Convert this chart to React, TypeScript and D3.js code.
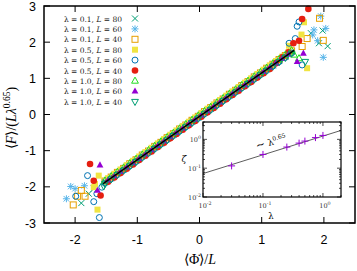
import React, { useEffect, useRef } from 'react';
import * as d3 from 'd3';

const W = 357;
const H = 271;

// shared <Phi>/L positions of the dense collapsed band (two staggered grids)
const phiGridA = [-1.52, -1.42, -1.32, -1.22, -1.12, -1.02, -0.92, -0.82, -0.72, -0.62, -0.52, -0.42, -0.32, -0.22, -0.12, -0.02,
  0.08, 0.18, 0.28, 0.38, 0.48, 0.58, 0.68, 0.78, 0.88, 0.98, 1.08, 1.18, 1.28, 1.38, 1.48];
const phiGridB = [-1.47, -1.37, -1.27, -1.17, -1.07, -0.97, -0.87, -0.77, -0.67, -0.57, -0.47, -0.37, -0.27, -0.17, -0.07, 0.03,
  0.13, 0.23, 0.33, 0.43, 0.53, 0.63, 0.73, 0.83, 0.93, 1.03, 1.13, 1.23, 1.33, 1.43];

// band values of <F>/(L lambda^0.65), one array per run
const band_01_80 = [-1.87, -1.76, -1.62, -1.52, -1.39, -1.28, -1.15, -1.04, -0.91, -0.80, -0.67, -0.56, -0.43, -0.32, -0.19, -0.08,
  0.05, 0.16, 0.29, 0.40, 0.53, 0.64, 0.77, 0.88, 1.01, 1.12, 1.25, 1.36, 1.49, 1.60, 1.73];
const band_01_60 = [-1.80, -1.68, -1.56, -1.44, -1.32, -1.20, -1.08, -0.96, -0.84, -0.72, -0.60, -0.48, -0.36, -0.24, -0.12, 0.00,
  0.12, 0.24, 0.36, 0.48, 0.60, 0.72, 0.84, 0.96, 1.08, 1.20, 1.32, 1.44, 1.56, 1.68];
const band_01_40 = [-1.84, -1.73, -1.60, -1.49, -1.36, -1.25, -1.12, -1.01, -0.88, -0.77, -0.64, -0.53, -0.40, -0.29, -0.16, -0.05,
  0.08, 0.19, 0.32, 0.43, 0.56, 0.67, 0.80, 0.91, 1.04, 1.15, 1.28, 1.39, 1.52, 1.63, 1.76];
const band_05_80 = [-1.76, -1.64, -1.52, -1.40, -1.28, -1.16, -1.04, -0.92, -0.80, -0.68, -0.56, -0.44, -0.32, -0.20, -0.08, 0.04,
  0.16, 0.28, 0.40, 0.52, 0.64, 0.76, 0.88, 1.00, 1.12, 1.24, 1.36, 1.48, 1.60, 1.72];
const band_05_60 = [-1.90, -1.78, -1.66, -1.54, -1.42, -1.30, -1.18, -1.06, -0.94, -0.82, -0.70, -0.58, -0.46, -0.34, -0.22, -0.10,
  0.02, 0.14, 0.26, 0.38, 0.50, 0.62, 0.74, 0.86, 0.98, 1.10, 1.22, 1.34, 1.46, 1.58, 1.70];
const band_05_40 = [-1.86, -1.74, -1.62, -1.50, -1.38, -1.26, -1.14, -1.02, -0.90, -0.78, -0.66, -0.54, -0.42, -0.30, -0.18, -0.06,
  0.06, 0.18, 0.30, 0.42, 0.54, 0.66, 0.78, 0.90, 1.02, 1.14, 1.26, 1.42, 1.58, 1.72];
const band_10_80 = [-1.83, -1.71, -1.59, -1.47, -1.35, -1.23, -1.11, -0.99, -0.87, -0.75, -0.63, -0.51, -0.39, -0.27, -0.15, -0.03,
  0.09, 0.21, 0.33, 0.45, 0.57, 0.69, 0.81, 0.93, 1.05, 1.17, 1.29, 1.41, 1.53, 1.65, 1.77];
const band_10_60 = [-1.82, -1.70, -1.58, -1.46, -1.34, -1.22, -1.10, -0.98, -0.86, -0.74, -0.62, -0.50, -0.38, -0.26, -0.14, -0.02,
  0.10, 0.22, 0.34, 0.46, 0.58, 0.70, 0.82, 0.94, 1.06, 1.18, 1.30, 1.42, 1.54, 1.66];
const band_10_40 = [-1.91, -1.79, -1.67, -1.55, -1.43, -1.31, -1.19, -1.07, -0.95, -0.83, -0.71, -0.59, -0.47, -0.35, -0.23, -0.11,
  0.01, 0.13, 0.25, 0.37, 0.49, 0.61, 0.73, 0.85, 0.97, 1.09, 1.21, 1.33, 1.45, 1.57, 1.69];

// scattered points at both ends of the band, [phi, F]
const extra_01_80 = [[1.98, 2.32], [1.79, 2.25], [2.06, 1.89], [1.92, 1.97], [-1.90, -2.45], [-1.78, -2.19], [-1.70, -2.05]];
const extra_01_60 = [[1.95, 2.72], [2.03, 2.38], [1.84, 2.34], [1.82, 2.20], [1.90, 2.04], [1.99, 1.58],
  [-2.07, -1.99], [-2.14, -2.33], [-1.85, -1.97], [-2.00, -2.05]];
const extra_01_40 = [[1.93, 2.66], [1.73, 2.10], [1.99, 2.05], [1.65, 1.88], [-2.03, -2.50], [-1.96, -2.26], [-1.84, -2.26], [-1.90, -2.10]];
const extra_05_80 = [[1.68, 2.55], [1.64, 2.21], [1.73, 1.28], [1.44, 1.90], [-1.64, -2.63], [-1.70, -2.01], [-1.68, -1.92], [-1.62, -1.69]];
const extra_05_60 = [[1.60, 2.56], [1.57, 2.44], [1.54, 2.10], [1.65, 1.37], [1.44, 1.97], [-1.80, -1.69], [-1.99, -2.26],
  [-1.70, -2.41], [-1.61, -2.85], [-1.65, -2.19], [-1.57, -2.01]];
const extra_05_40 = [[1.75, 2.92], [1.65, 2.64], [1.60, 2.04], [1.51, 1.97], [-1.76, -1.37], [-1.59, -2.24], [-1.70, -1.83]];
const extra_10_80 = [[1.52, 1.65], [1.60, 1.55]];
const extra_10_60 = [[1.57, 1.46], [1.67, 1.69], [-1.60, -1.40], [-1.64, -2.10]];
const extra_10_40 = [[1.70, 1.46], [-1.54, -1.98]];

const legendLambda = ['0.1', '0.1', '0.1', '0.5', '0.5', '0.5', '1.0', '1.0', '1.0'];
const legendL = ['80', '60', '40', '80', '60', '40', '80', '60', '40'];

// fitted line through the collapse
const fitPhi = [-1.55, 1.52];
const fitF = [-1.91, 1.77];

const xTicks = [-2, -1, 0, 1, 2];
const yTicks = [-3, -2, -1, 0, 1, 2, 3];

// inset: zeta vs lambda
const insetLambda = [0.03, 0.1, 0.25, 0.4, 0.5, 0.75, 1.0];
const insetZeta = [0.12, 0.30, 0.54, 0.74, 0.87, 1.15, 1.37];
const insetFitLambda = [0.01, 2];
const insetFitZeta = [0.065, 2.04];

type Shape = 'cross' | 'star' | 'sqOpen' | 'sqFill' | 'circOpen' | 'circFill' | 'triOpen' | 'triFill' | 'triDown' | 'plus';

const App: React.FC = () => {
  const svgRef = useRef<SVGSVGElement>(null);

  useEffect(() => {
    if (!svgRef.current) return;
    const svg = d3.select(svgRef.current);
    svg.selectAll('*').remove();

    const left = 44, right = 355, top = 6, bottom = 223;
    const x = d3.scaleLinear().domain([-2.5, 2.5]).range([left, right]);
    const y = d3.scaleLinear().domain([-3, 3]).range([bottom, top]);

    const series = [
      { band: band_01_80, grid: phiGridA, extra: extra_01_80, shape: 'cross', color: '#009e73' },
      { band: band_01_60, grid: phiGridB, extra: extra_01_60, shape: 'star', color: '#56b4e9' },
      { band: band_01_40, grid: phiGridA, extra: extra_01_40, shape: 'sqOpen', color: '#e69f00' },
      { band: band_05_80, grid: phiGridB, extra: extra_05_80, shape: 'sqFill', color: '#f0e442' },
      { band: band_05_60, grid: phiGridA, extra: extra_05_60, shape: 'circOpen', color: '#0072b2' },
      { band: band_05_40, grid: phiGridB, extra: extra_05_40, shape: 'circFill', color: '#e51e10' },
      { band: band_10_80, grid: phiGridA, extra: extra_10_80, shape: 'triOpen', color: '#22dd22' },
      { band: band_10_60, grid: phiGridB, extra: extra_10_60, shape: 'triFill', color: '#9400d3' },
      { band: band_10_40, grid: phiGridA, extra: extra_10_40, shape: 'triDown', color: '#009e73' },
    ] as { band: number[]; grid: number[]; extra: number[][]; shape: Shape; color: string }[];

    const marker = (g: any, shape: Shape, color: string, cx: number, cy: number) => {
      const t = `translate(${cx},${cy})`;
      const open = { fill: 'none', stroke: color, 'stroke-width': 1 };
      const add = (el: any, attrs: Record<string, any>) => {
        Object.entries(attrs).forEach(([k, v]) => el.attr(k, v));
        return el.attr('transform', t);
      };
      switch (shape) {
        case 'cross': add(g.append('path').attr('d', 'M-3,-3L3,3M-3,3L3,-3'), open); break;
        case 'plus': add(g.append('path').attr('d', 'M-3.5,0L3.5,0M0,-3.5L0,3.5'), open); break;
        case 'star': add(g.append('path').attr('d', 'M-2.8,-2.8L2.8,2.8M-2.8,2.8L2.8,-2.8M-3.5,0L3.5,0M0,-3.5L0,3.5'), open); break;
        case 'sqOpen': add(g.append('rect').attr('x', -3).attr('y', -3).attr('width', 6).attr('height', 6), open); break;
        case 'sqFill': add(g.append('rect').attr('x', -3).attr('y', -3).attr('width', 6).attr('height', 6), { fill: color }); break;
        case 'circOpen': add(g.append('circle').attr('r', 3), open); break;
        case 'circFill': add(g.append('circle').attr('r', 3.3), { fill: color }); break;
        case 'triOpen': add(g.append('path').attr('d', 'M0,-3.8L3.4,2.3L-3.4,2.3Z'), open); break;
        case 'triFill': add(g.append('path').attr('d', 'M0,-3.8L3.4,2.3L-3.4,2.3Z'), { fill: color }); break;
        case 'triDown': add(g.append('path').attr('d', 'M0,3.8L3.4,-2.3L-3.4,-2.3Z'), open); break;
      }
    };

    // data
    const dataG = svg.append('g');
    series.forEach(s => {
      s.grid.forEach((p, i) => marker(dataG, s.shape, s.color, x(p), y(s.band[i])));
      s.extra.forEach(([p, f]) => marker(dataG, s.shape, s.color, x(p), y(f)));
    });

    const fitLine = d3.line<number>().x((d, i) => x(fitPhi[i])).y(d => y(d));
    svg.append('path').attr('d', fitLine(fitF)).attr('fill', 'none').attr('stroke', '#000').attr('stroke-width', 1.5);

    // frame + mirrored ticks
    svg.append('rect').attr('x', left).attr('y', top).attr('width', right - left).attr('height', bottom - top)
      .attr('fill', 'none').attr('stroke', '#000').attr('stroke-width', 1.5);
    const tl = 6;
    xTicks.forEach(v => {
      svg.append('line').attr('x1', x(v)).attr('x2', x(v)).attr('y1', bottom).attr('y2', bottom - tl).attr('stroke', '#000');
      svg.append('line').attr('x1', x(v)).attr('x2', x(v)).attr('y1', top).attr('y2', top + tl).attr('stroke', '#000');
      svg.append('text').attr('x', x(v)).attr('y', 244).attr('text-anchor', 'middle')
        .attr('font-family', 'Liberation Sans, Arial, sans-serif').attr('font-size', 12.5).text(v < 0 ? `-${-v}` : `${v}`);
    });
    yTicks.forEach(v => {
      svg.append('line').attr('x1', left).attr('x2', left + tl).attr('y1', y(v)).attr('y2', y(v)).attr('stroke', '#000');
      svg.append('line').attr('x1', right).attr('x2', right - tl).attr('y1', y(v)).attr('y2', y(v)).attr('stroke', '#000');
      svg.append('text').attr('x', 36).attr('y', y(v) + 4.5).attr('text-anchor', 'end')
        .attr('font-family', 'Liberation Sans, Arial, sans-serif').attr('font-size', 12.5).text(v < 0 ? `-${-v}` : `${v}`);
    });

    // legend
    const lg = svg.append('g');
    legendLambda.forEach((lam, i) => {
      const ly = 18.5 + i * 10.4;
      const t = lg.append('text').attr('x', 122).attr('y', ly + 3).attr('text-anchor', 'end')
        .attr('font-family', 'DejaVu Serif, serif').attr('font-size', 7.5).attr('fill', '#222');
      t.append('tspan').text(`λ = ${lam}, `);
      t.append('tspan').attr('font-style', 'italic').text('L');
      t.append('tspan').text(` = ${legendL[i]}`);
      marker(lg, series[i].shape, series[i].color, 135, ly);
    });

    // axis titles
    const yt = svg.append('text').attr('transform', 'translate(16,118) rotate(-90)').attr('text-anchor', 'middle')
      .attr('font-family', 'Liberation Serif, serif').attr('font-size', 14);
    yt.append('tspan').text('⟨');
    yt.append('tspan').attr('font-style', 'italic').text('F');
    yt.append('tspan').text('⟩/(');
    yt.append('tspan').attr('font-style', 'italic').text('Lλ');
    yt.append('tspan').attr('font-size', 9.5).attr('dy', -6).text('0.65');
    yt.append('tspan').attr('dy', 6).text(')');

    const xt = svg.append('text').attr('x', 200).attr('y', 264).attr('text-anchor', 'middle')
      .attr('font-family', 'Liberation Serif, serif').attr('font-size', 14);
    xt.append('tspan').text('⟨Φ̇⟩/');
    xt.append('tspan').attr('font-style', 'italic').text('L');

    // inset
    const il = 203, ir = 341, it = 122, ib = 197;
    const ix = d3.scaleLog().domain([0.01, 2]).range([il, ir]);
    const iy = d3.scaleLog().domain([0.01, 4]).range([ib, it]);
    const ig = svg.append('g');
    ig.append('rect').attr('x', il).attr('y', it).attr('width', ir - il).attr('height', ib - it).attr('fill', '#fff');

    const lineI = d3.line<number>().x((d, i) => ix(insetFitLambda[i])).y(d => iy(d));
    ig.append('path').attr('d', lineI(insetFitZeta)).attr('fill', 'none').attr('stroke', '#333').attr('stroke-width', 0.8);
    insetLambda.forEach((l, i) => marker(ig, 'plus', '#9400d3', ix(l), iy(insetZeta[i])));

    const xMinor: number[] = [];
    [0.01, 0.1, 1].forEach(d => { for (let k = 1; k <= 9; k++) if (d * k <= 2) xMinor.push(d * k); });
    const yMinor: number[] = [];
    [0.01, 0.1, 1].forEach(d => { for (let k = 1; k <= 9; k++) if (d * k <= 4) yMinor.push(d * k); });
    const isMajor = (v: number) => Math.abs(Math.log10(v) - Math.round(Math.log10(v))) < 1e-6;
    xMinor.forEach(v => {
      const len = isMajor(v) ? 4 : 2;
      ig.append('line').attr('x1', ix(v)).attr('x2', ix(v)).attr('y1', ib).attr('y2', ib - len).attr('stroke', '#000').attr('stroke-width', 0.7);
      ig.append('line').attr('x1', ix(v)).attr('x2', ix(v)).attr('y1', it).attr('y2', it + len).attr('stroke', '#000').attr('stroke-width', 0.7);
    });
    yMinor.forEach(v => {
      const len = isMajor(v) ? 4 : 2;
      ig.append('line').attr('x1', il).attr('x2', il + len).attr('y1', iy(v)).attr('y2', iy(v)).attr('stroke', '#000').attr('stroke-width', 0.7);
      ig.append('line').attr('x1', ir).attr('x2', ir - len).attr('y1', iy(v)).attr('y2', iy(v)).attr('stroke', '#000').attr('stroke-width', 0.7);
    });
    ig.append('rect').attr('x', il).attr('y', it).attr('width', ir - il).attr('height', ib - it)
      .attr('fill', 'none').attr('stroke', '#000').attr('stroke-width', 1.2);

    const decLabel = (txt: any, e: number) => {
      txt.append('tspan').text('10');
      txt.append('tspan').attr('font-size', 4.8).attr('dy', -3).text(`${e}`);
    };
    [0.01, 0.1, 1].forEach(v => {
      const e = Math.round(Math.log10(v));
      const tx = ig.append('text').attr('x', ix(v) + 2).attr('y', 208).attr('text-anchor', 'middle')
        .attr('font-family', 'DejaVu Serif, serif').attr('font-size', 6.5).attr('fill', '#333');
      decLabel(tx, e);
      const ty = ig.append('text').attr('x', il - 2).attr('y', iy(v) + 2.5).attr('text-anchor', 'end')
        .attr('font-family', 'DejaVu Serif, serif').attr('font-size', 6.5).attr('fill', '#333');
      decLabel(ty, e);
    });
    ig.append('text').attr('x', 271).attr('y', 219).attr('text-anchor', 'middle')
      .attr('font-family', 'DejaVu Serif, serif').attr('font-size', 8.5).text('λ');
    ig.append('text').attr('x', 184).attr('y', 162).attr('text-anchor', 'middle')
      .attr('font-family', 'DejaVu Serif, serif').attr('font-size', 9).attr('font-style', 'italic').text('ζ');
    const ann = ig.append('text').attr('transform', 'translate(272,145) rotate(-17)').attr('text-anchor', 'middle')
      .attr('font-family', 'DejaVu Serif, serif').attr('font-size', 9);
    ann.append('tspan').attr('font-size', 11).text('∼');
    ann.append('tspan').text(' λ');
    ann.append('tspan').attr('font-size', 6).attr('dy', -3.5).text('0.65');
  }, []);

  return (
    <svg ref={svgRef} width={W} height={H} viewBox={`0 0 ${W} ${H}`}
      style={{ position: 'absolute', left: 0, top: 0, background: '#fff' }} />
  );
};

export default App;
